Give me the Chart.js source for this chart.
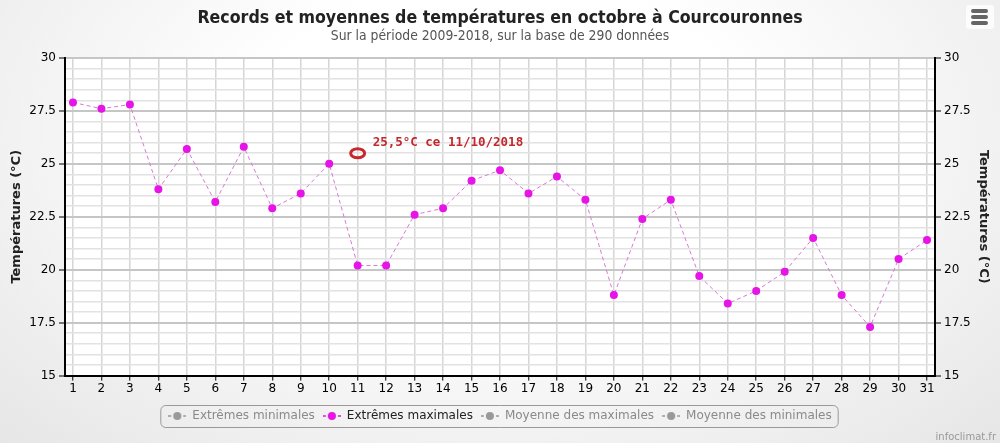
<!DOCTYPE html>
<html>
<head>
<meta charset="utf-8">
<script src="https://cdn.jsdelivr.net/npm/chart.js@4/dist/chart.umd.min.js"></script>
<style>
  html, body { margin: 0; padding: 0; }
  body {
    width: 1000px; height: 443px; overflow: hidden;
    background: radial-gradient(ellipse at 50% 30%, #ffffff 35%, #e6e6e6 100%);
  }
  #wrap { position: relative; width: 1000px; height: 443px; }
</style>
</head>
<body>
<div id="wrap"><canvas id="chart"></canvas></div>
<script>
// jours du mois d'octobre
const days = [1, 2, 3, 4, 5, 6, 7, 8, 9, 10, 11, 12, 13, 14, 15, 16, 17, 18, 19, 20,
  21, 22, 23, 24, 25, 26, 27, 28, 29, 30, 31];
// extrêmes maximales (°C)
const maxExtremes = [27.9, 27.6, 27.8, 23.8, 25.7, 23.2, 25.8, 22.9, 23.6, 25.0,
  20.2, 20.2, 22.6, 22.9, 24.2, 24.7, 23.6, 24.4, 23.3, 18.8,
  22.4, 23.3, 19.7, 18.4, 19.0, 19.9, 21.5, 18.8, 17.3, 20.5, 21.4];
// séries masquées dans la légende (pas de valeurs visibles)
const minExtremes = [];
const avgMax = [];
const avgMin = [];
const seriesNames = ['Extrêmes minimales', 'Extrêmes maximales', 'Moyenne des maximales', 'Moyenne des minimales'];
const seriesVisible = [false, true, false, false];
const yMajorTicks = [15, 17.5, 20, 22.5, 25, 27.5, 30];
// record du mois
const recordDay = 11;
const recordValue = 25.5;
const recordLabel = '25,5°C ce 11/10/2018';

const MAGENTA = '#e614e6';
const FONT = '"DejaVu Sans", Verdana, sans-serif';
const COND = '"DejaVu Sans Condensed", "Liberation Sans Narrow", sans-serif';

function legendIcon(color, dashed) {
  const c = document.createElement('canvas');
  c.width = 18; c.height = 10;
  const g = c.getContext('2d');
  g.strokeStyle = color;
  g.lineWidth = 1.5;
  if (dashed) g.setLineDash([3, 2]);
  g.beginPath(); g.moveTo(0, 5); g.lineTo(18, 5); g.stroke();
  g.setLineDash([]);
  g.fillStyle = color;
  g.beginPath(); g.arc(9, 5, 4, 0, Math.PI * 2); g.fill();
  return c;
}

const isMajor = v => yMajorTicks.includes(v);

const plotBackground = {
  id: 'plotBackground',
  beforeDraw(chart) {
    const {ctx, chartArea: a} = chart;
    ctx.save();
    ctx.fillStyle = '#ffffff';
    ctx.fillRect(a.left, a.top, a.right - a.left, a.bottom - a.top);
    ctx.restore();
  }
};

const extras = {
  id: 'extras',
  afterDatasetsDraw(chart) {
    const {ctx} = chart;
    const x = chart.scales.x.getPixelForValue(recordDay);
    const y = chart.scales.y.getPixelForValue(recordValue);
    ctx.save();
    ctx.strokeStyle = '#c8282d';
    ctx.lineWidth = 3;
    ctx.beginPath();
    ctx.ellipse(x, y, 7, 4.5, 0, 0, Math.PI * 2);
    ctx.stroke();
    ctx.fillStyle = '#c0282d';
    ctx.font = 'bold 12.5px "DejaVu Sans Mono", monospace';
    ctx.textBaseline = 'middle';
    ctx.fillText(recordLabel, x + 15, y - 10);
    ctx.restore();
  },
  afterDraw(chart) {
    const {ctx} = chart;
    ctx.save();
    // cadre de la légende
    const boxes = chart.legend.legendHitBoxes;
    if (boxes && boxes.length) {
      const l = Math.min(...boxes.map(b => b.left)) - 8;
      const r = Math.max(...boxes.map(b => b.left + b.width)) + 6;
      const t = Math.min(...boxes.map(b => b.top)) - 5;
      const btm = Math.max(...boxes.map(b => b.top + b.height)) + 5;
      ctx.strokeStyle = '#999';
      ctx.lineWidth = 1;
      ctx.beginPath();
      ctx.roundRect(l + 0.5, t + 0.5, r - l, btm - t, 5);
      ctx.stroke();
    }
    // menu
    ctx.fillStyle = 'rgba(255,255,255,0.8)';
    ctx.beginPath(); ctx.roundRect(966, 5, 28, 24, 3); ctx.fill();
    ctx.fillStyle = '#666';
    [9, 15, 21].forEach(yy => { ctx.beginPath(); ctx.roundRect(971, yy, 17, 4, 2); ctx.fill(); });
    // crédit
    ctx.fillStyle = '#999';
    ctx.font = '10px ' + FONT;
    ctx.textAlign = 'right';
    ctx.textBaseline = 'bottom';
    ctx.fillText('infoclimat.fr', 996, 442);
    ctx.restore();
  }
};

const yScale = (position) => ({
  type: 'linear',
  position: position,
  min: 15,
  max: 30,
  afterFit: s => { s.width = 65; },
  ticks: {
    stepSize: 0.5,
    autoSkip: false,
    color: '#000',
    padding: 3,
    font: {family: FONT, size: 12},
    callback: v => isMajor(v) ? String(v) : ''
  },
  grid: {
    drawOnChartArea: position === 'left',
    color: ctx => isMajor(ctx.tick.value) ? '#c6c6c6' : '#e2e2e2',
    lineWidth: ctx => isMajor(ctx.tick.value) ? 2 : 1.5,
    tickColor: ctx => isMajor(ctx.tick.value) ? '#000' : 'rgba(0,0,0,0)',
    tickLength: 6,
    tickWidth: 1
  },
  border: {color: '#000', width: 2},
  title: {
    display: true,
    text: 'Températures (°C)',
    color: '#222',
    font: {family: FONT, size: 13, weight: 'bold'},
    padding: {top: 9, bottom: 0}
  }
});

new Chart(document.getElementById('chart'), {
  type: 'line',
  data: {
    datasets: [
      {label: seriesNames[0], data: minExtremes, hidden: true, borderColor: '#888', backgroundColor: '#888'},
      {
        label: seriesNames[1],
        data: days.map((d, i) => ({x: d, y: maxExtremes[i]})),
        borderColor: '#d67ad6',
        borderWidth: 1,
        borderDash: [4, 3],
        pointRadius: 4,
        pointHoverRadius: 4,
        pointBorderWidth: 0,
        pointBackgroundColor: MAGENTA,
        backgroundColor: MAGENTA,
        tension: 0
      },
      {label: seriesNames[2], data: avgMax, hidden: true, borderColor: '#888', backgroundColor: '#888'},
      {label: seriesNames[3], data: avgMin, hidden: true, borderColor: '#888', backgroundColor: '#888'}
    ]
  },
  options: {
    responsive: true,
    maintainAspectRatio: false,
    animation: false,
    layout: {padding: {left: 0, right: 0, top: 0, bottom: 11}},
    scales: {
      x: {
        type: 'linear',
        min: 0.72,
        max: 31.28,
        afterBuildTicks: s => { s.ticks = days.map(v => ({value: v})); },
        afterFit: s => { s.height += 5; },
        ticks: {
          autoSkip: false,
          maxRotation: 0,
          color: '#000',
          padding: 1,
          font: {family: FONT, size: 12},
          callback: v => String(v)
        },
        grid: {color: '#d6d6d6', lineWidth: 1.5, tickLength: 5, tickColor: '#000', tickWidth: 1},
        border: {color: '#000', width: 2}
      },
      y: yScale('left'),
      y2: yScale('right')
    },
    plugins: {
      title: {
        display: true,
        text: 'Records et moyennes de températures en octobre à Courcouronnes',
        color: '#222',
        font: {family: COND, size: 17.6, weight: 'bold', lineHeight: 1.1},
        padding: {top: 9, bottom: 0}
      },
      subtitle: {
        display: true,
        text: 'Sur la période 2009-2018, sur la base de 290 données',
        color: '#555',
        font: {family: COND, size: 13.8, lineHeight: 1.2},
        padding: {top: 0, bottom: 13}
      },
      legend: {
        position: 'bottom',
        labels: {
          usePointStyle: true,
          pointStyleWidth: 18,
          boxHeight: 10,
          padding: 8,
          font: {family: FONT, size: 12},
          generateLabels: chart => chart.data.datasets.map((ds, i) => ({
            text: ds.label,
            fillStyle: seriesVisible[i] ? MAGENTA : '#888',
            strokeStyle: seriesVisible[i] ? MAGENTA : '#888',
            lineWidth: 0,
            pointStyle: legendIcon(seriesVisible[i] ? MAGENTA : '#999', true),
            hidden: false,
            fontColor: seriesVisible[i] ? '#222' : '#8a8a8a',
            datasetIndex: i
          }))
        },
        onClick: () => {}
      },
      tooltip: {enabled: false}
    }
  },
  plugins: [plotBackground, extras]
});
</script>
</body>
</html>
